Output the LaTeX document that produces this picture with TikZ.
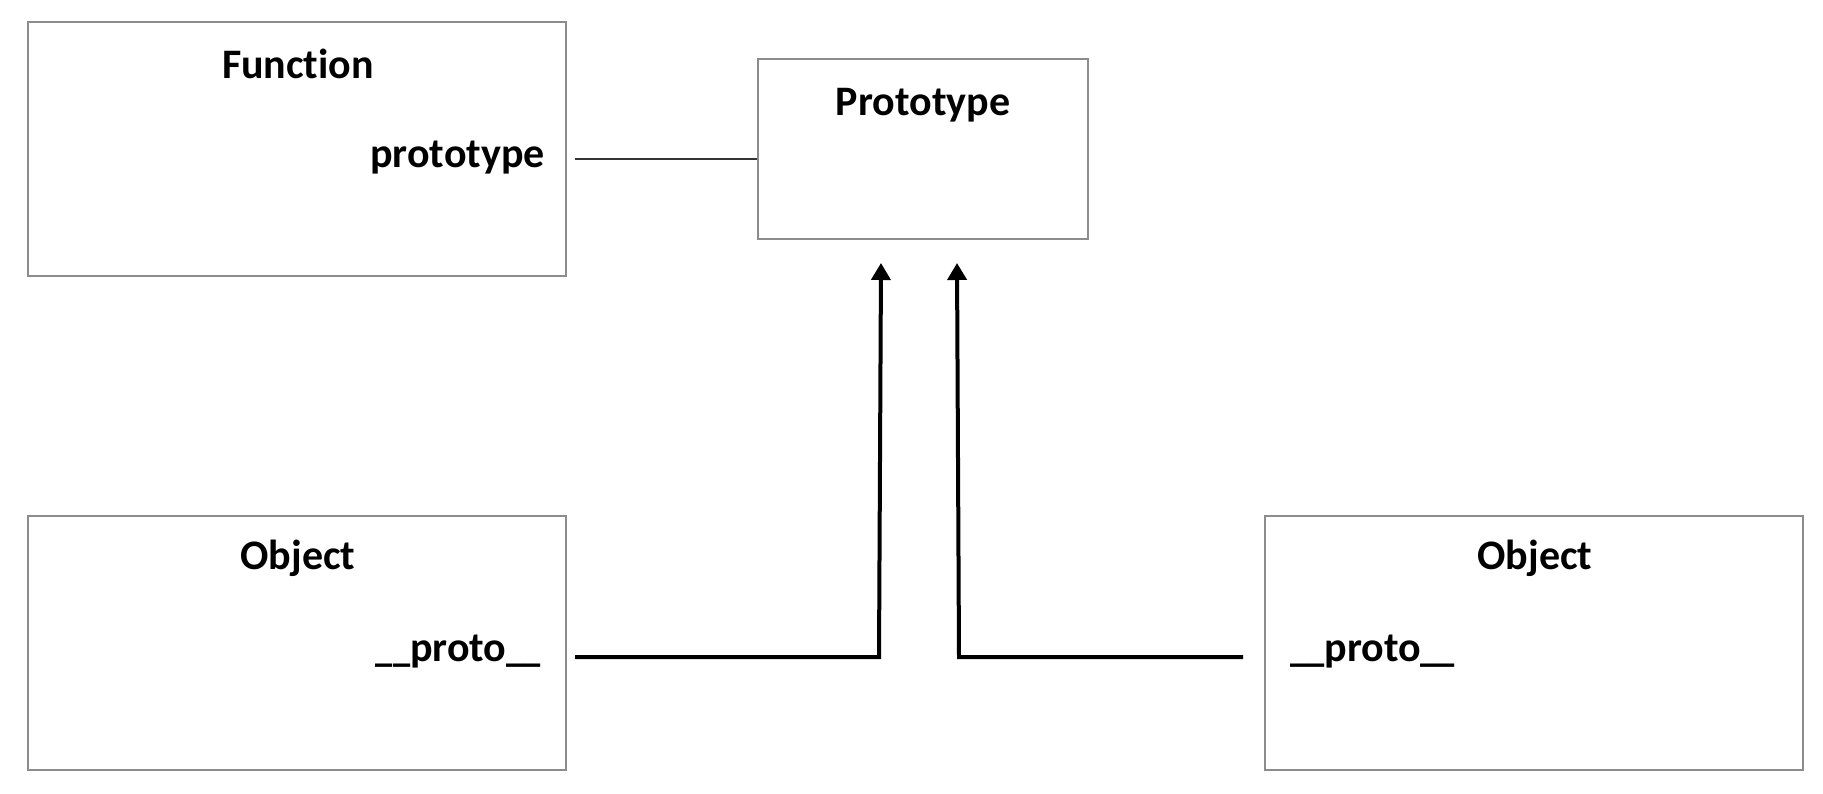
\documentclass[tikz,border=0pt]{standalone}
\usepackage{fontspec}
\setmainfont[Ligatures=NoCommon]{Carlito}
\usetikzlibrary{arrows.meta}
\newcommand{\shortus}{\scalebox{0.82}[1]{\_}}
\begin{document}
\begin{tikzpicture}[x=1pt,y=-1pt,
  box/.style={draw=black!45,line width=1.6pt},
  lbl/.style={font=\fontsize{42}{46}\selectfont\bfseries,inner sep=0pt},
  link/.style={draw=black!80,line width=2pt},
  ptr/.style={draw=black,line width=4pt,-{Triangle[length=17pt,width=19pt]}}]
\fill[white] (0,0) rectangle (1823,793);
\useasboundingbox (0,0) rectangle (1823,793);
% boxes
\node[box,minimum width=538pt,minimum height=254pt,inner sep=0pt] (func) at (297,149) {};
\node[box,minimum width=330pt,minimum height=180pt,inner sep=0pt] (proto) at (923,149) {};
\node[box,minimum width=538pt,minimum height=254pt,inner sep=0pt] (objl) at (297,643) {};
\node[box,minimum width=538pt,minimum height=254pt,inner sep=0pt] (objr) at (1534,643) {};
% texts
\node[lbl] (tfunc) at (298,64) {Function};
\node[lbl,anchor=east] (tprop) at (545,158) {prototype};
\node[lbl] (tproto) at (923,105) {Prototype};
\node[lbl] (tobjl) at (298,558) {Object};
\node[lbl,anchor=east] (tpl) at (541,652) {\shortus\shortus proto\shortus\shortus};
\node[lbl] (tobjr) at (1535,558) {Object};
\node[lbl,anchor=west] (tpr) at (1290,652) {\shortus\shortus proto\shortus\shortus};
% connectors
\coordinate (a1) at (575,159);
\draw[link] (a1) -- (proto.west |- a1);
\coordinate (l0) at (575,657);
\coordinate (l1) at (879,657);
\coordinate (l2) at (881,263);
\draw[ptr] (l0) -- (l1) -- (l2);
\coordinate (r0) at (1243,657);
\coordinate (r1) at (959,657);
\coordinate (r2) at (957,263);
\draw[ptr] (r0) -- (r1) -- (r2);
\end{tikzpicture}
\end{document}
